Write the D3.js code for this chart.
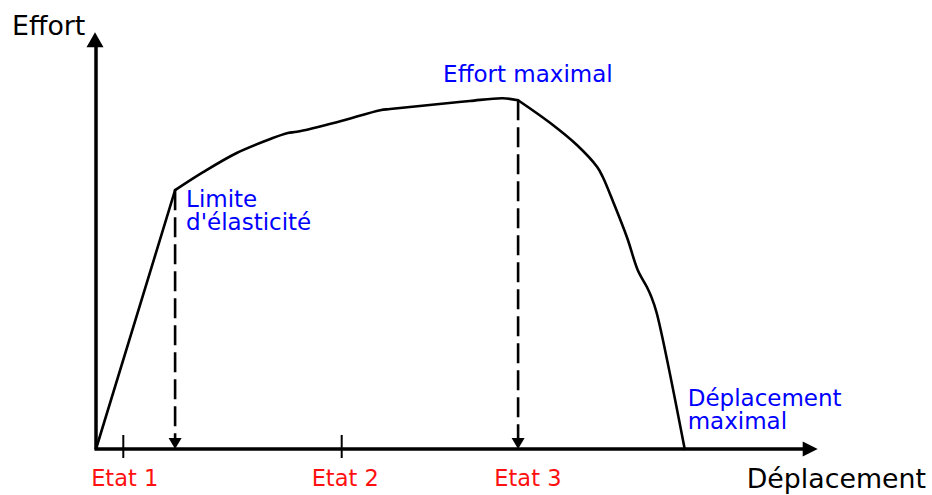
<!DOCTYPE html>
<html>
<meta charset="utf-8">
<head>
<title>Effort - Déplacement</title>
<style>
body { margin: 0; background: #fff; }
svg { display: block; font-family: "DejaVu Sans", sans-serif; }
.axis-line { stroke: #000; stroke-width: 3.5px; fill: none; }
.curve { stroke: #000; stroke-width: 2.6px; fill: none; stroke-linejoin: round; stroke-linecap: round; }
.guide { stroke: #000; stroke-width: 2.6px; stroke-dasharray: 20,7; fill: none; }
.tick { stroke: #000; stroke-width: 2px; }
.axis-title { font-size: 26.8px; fill: #000; }
.note { font-size: 23px; fill: #0000ff; }
.etat { font-size: 22.5px; fill: #ff1010; text-anchor: middle; }
</style>
</head>
<body>
<script src="https://cdn.jsdelivr.net/npm/d3@7/dist/d3.min.js"></script>
<script>

// curve (displacement, effort) in arbitrary units
var risePts = [[0, 0], [11.3, 64.7]];
var plasticPts = [[11.3, 64.7], [15.3, 69.2], [20.1, 74], [24.9, 77.5], [27.4, 79],
                  [28.7, 79.3], [34.4, 81.7], [40.6, 84.7], [42, 85], [48.7, 86.2],
                  [53.4, 87], [58.1, 87.7], [60.3, 87.2]];
var neckPts = [[60.3, 87.2], [64.9, 81.5], [68.7, 76], [71.6, 70.5], [72.4, 68],
               [73.9, 61.7], [75.9, 52.7], [77.4, 44.7], [78.7, 40.5], [79.3, 38.2],
               [80.1, 34], [84.1, 0]];

var etatX = [3.9, 35.1, 60.3];
var etatLabelX = [4.1, 35.6, 61.7];
var etatNames = ["Etat 1", "Etat 2", "Etat 3"];
var tickEtats = [0, 1];   // Etat 3 is marked by the dashed arrow

var elastic = plasticPts[0];
var peak = neckPts[0];
var rupture = neckPts[neckPts.length - 1];

var xMax = 103.1, yMax = 104.2;

var width = 932, height = 495;

var svg = d3.select("body").append("svg")
    .attr("width", width)
    .attr("height", height);

var x = d3.scaleLinear().domain([0, 100]).range([96, 796]);
var y = d3.scaleLinear().domain([0, 100]).range([449, 49]);

// triangle arrow head, tip at (tx,ty), pointing dir ("up","down","right")
function arrowHead(tx, ty, dir, len, half) {
  var p;
  if (dir == "up") p = [[tx, ty], [tx - half, ty + len], [tx + half, ty + len]];
  else if (dir == "down") p = [[tx, ty], [tx - half, ty - len], [tx + half, ty - len]];
  else p = [[tx, ty], [tx - len, ty - half], [tx - len, ty + half]];
  svg.append("path")
    .attr("d", "M" + p.join("L") + "Z")
    .style("fill", "#000");
}

// axes
svg.append("line").attr("class", "axis-line")
    .attr("x1", x(0)).attr("y1", y(0))
    .attr("x2", x(0)).attr("y2", y(yMax) + 10);
arrowHead(x(0) - 1, y(yMax), "up", 15, 8.5);

svg.append("line").attr("class", "axis-line")
    .attr("x1", x(0) - 1.5).attr("y1", y(0))
    .attr("x2", x(xMax) - 10).attr("y2", y(0));
arrowHead(x(xMax), y(0), "right", 15, 7.5);

// state ticks
svg.selectAll(".tick")
  .data(tickEtats).enter()
  .append("line")
    .attr("class", "tick")
    .attr("x1", d => x(etatX[d])).attr("x2", d => x(etatX[d]))
    .attr("y1", y(0) - 14).attr("y2", y(0) + 9);

svg.selectAll(".etat")
  .data(etatNames).enter()
  .append("text")
    .attr("class", "etat")
    .attr("x", (d, i) => x(etatLabelX[i]))
    .attr("y", y(0) + 37)
    .text(d => d);

// dashed guides with arrows
[elastic, peak].forEach(function(p) {
  svg.append("line").attr("class", "guide")
    .attr("x1", x(p[0])).attr("y1", y(p[1]))
    .attr("x2", x(p[0])).attr("y2", y(0) - 9);
  arrowHead(x(p[0]), y(0), "down", 11, 6.5);
});

// the curve
var line = d3.line().x(d => x(d[0])).y(d => y(d[1]));
svg.append("path").attr("class", "curve").attr("d", line(risePts));
line.curve(d3.curveCatmullRom.alpha(0.5));
svg.append("path").attr("class", "curve").attr("d", line(plasticPts));
svg.append("path").attr("class", "curve").attr("d", line(neckPts));

// axis titles
svg.append("text").attr("class", "axis-title")
    .attr("x", 12).attr("y", 35).text("Effort");
svg.append("text").attr("class", "axis-title")
    .attr("x", 926).attr("y", 488)
    .style("text-anchor", "end").text("Déplacement");

// annotations
function note(lines, px, py) {
  var t = svg.append("text").attr("class", "note")
      .attr("x", px).attr("y", py);
  lines.forEach(function(s, i) {
    t.append("tspan").attr("x", px).attr("dy", i ? 22.5 : 0).text(s);
  });
}
note(["Limite", "d'élasticité"], x(elastic[0]) + 11, y(elastic[1]) + 17);
note(["Effort maximal"], x(peak[0]) - 75, y(peak[1]) - 18);
note(["Déplacement", "maximal"], x(rupture[0]) + 3, y(0) - 43);

</script>
</body>
</html>
